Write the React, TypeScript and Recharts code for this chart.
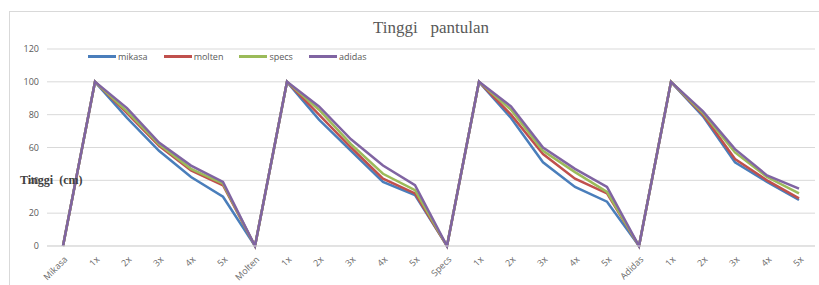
import React from "react"
import { CartesianGrid, Line, LineChart, XAxis, YAxis } from "recharts"

const categories = [
   "Mikasa", "1x", "2x", "3x", "4x", "5x",
   "Molten", "1x", "2x", "3x", "4x", "5x",
   "Specs", "1x", "2x", "3x", "4x", "5x",
   "Adidas", "1x", "2x", "3x", "4x", "5x",
]

const mikasa = [0, 100, 78, 58, 42, 30, 0, 100, 77, 58, 39, 31, 0, 100, 78, 51, 36, 27, 0, 100, 79, 51, 39, 28]
const molten = [0, 100, 81, 61, 46, 37, 0, 100, 80, 60, 41, 32, 0, 100, 80, 56, 41, 32, 0, 100, 80, 53, 40, 29]
const specs = [0, 100, 82, 62, 47, 38, 0, 100, 83, 62, 44, 34, 0, 100, 83, 58, 45, 33, 0, 100, 81, 57, 42, 32]
const adidas = [0, 100, 84, 63, 49, 39, 0, 100, 85, 65, 49, 37, 0, 100, 85, 60, 47, 36, 0, 100, 82, 59, 43, 35]

const yTicks = [0, 20, 40, 60, 80, 100, 120]

const series = [
   { key: "mikasa", color: "#4a7ebb" },
   { key: "molten", color: "#c0504d" },
   { key: "specs", color: "#9bbb59" },
   { key: "adidas", color: "#8064a2" },
]

const data = categories.map((name, i) => ({
   name,
   mikasa: mikasa[i],
   molten: molten[i],
   specs: specs[i],
   adidas: adidas[i],
}))

const sans = "'Open Sans', 'Noto Sans', sans-serif"
const serif = "'Liberation Serif', 'DejaVu Serif', serif"

const XTick = (props: any) => {
   const { x, y, payload } = props
   return (
      <text
         x={x + 5}
         y={y + 6}
         textAnchor="end"
         fontSize={9}
         fontFamily={sans}
         fill="#6a6a6a"
         transform={`rotate(-45, ${x + 5}, ${y + 6})`}
      >
         {payload.value}
      </text>
   )
}

export default function App() {
   return (
      <div
         style={{
            position: "absolute",
            left: 0,
            top: 0,
            width: 819,
            height: 285,
            overflow: "hidden",
            background: "#fff",
         }}
      >
         <div
            style={{
               position: "absolute",
               left: 9,
               top: 11,
               width: 830,
               height: 300,
               border: "1px solid #d9d9d9",
            }}
         />
         <LineChart
            width={819}
            height={285}
            data={data}
            margin={{ top: 49, right: 4, bottom: 0, left: 8 }}
            style={{ position: "absolute", left: 0, top: 0 }}
         >
            <CartesianGrid vertical={false} stroke="#d9d9d9" />
            <XAxis
               dataKey="name"
               interval={0}
               height={39}
               padding={{ left: 16, right: 16 }}
               tick={<XTick />}
               tickLine={false}
               axisLine={{ stroke: "#d9d9d9" }}
            />
            <YAxis
               width={39}
               domain={[0, 120]}
               ticks={yTicks}
               tickLine={false}
               axisLine={false}
               tick={{ fontSize: 9, fontFamily: sans, fill: "#595959" }}
            />
            {series.map((s) => (
               <Line
                  key={s.key}
                  type="linear"
                  dataKey={s.key}
                  stroke={s.color}
                  strokeWidth={2.5}
                  dot={false}
                  isAnimationActive={false}
               />
            ))}
         </LineChart>
         <div
            style={{
               position: "absolute",
               left: 0,
               width: 862,
               top: 18,
               textAlign: "center",
               fontFamily: serif,
               fontSize: 17,
               color: "#595959",
               whiteSpace: "pre",
            }}
         >
            {"Tinggi   pantulan"}
         </div>
         <div
            style={{
               position: "absolute",
               left: 88,
               top: 50,
               display: "flex",
               gap: 16,
               fontFamily: sans,
               fontSize: 9,
               color: "#595959",
            }}
         >
            {series.map((s) => (
               <div key={s.key} style={{ display: "flex", alignItems: "center" }}>
                  <span
                     style={{
                        display: "inline-block",
                        width: 28,
                        height: 2.5,
                        background: s.color,
                        marginRight: 2,
                     }}
                  />
                  {s.key}
               </div>
            ))}
         </div>
         <div
            style={{
               position: "absolute",
               left: 20,
               top: 173,
               fontFamily: serif,
               fontSize: 12,
               fontWeight: "bold",
               color: "#404040",
               whiteSpace: "pre",
            }}
         >
            {"Tinggi  (cm)"}
         </div>
      </div>
   )
}
